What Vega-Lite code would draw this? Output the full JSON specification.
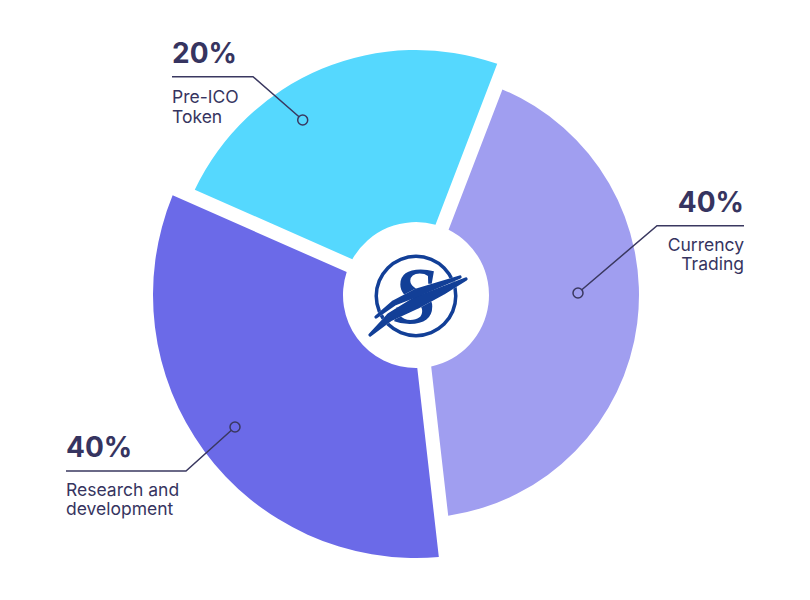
{
  "$schema": "https://vega.github.io/schema/vega-lite/v6.json",
  "width": 810,
  "height": 600,
  "autosize": {"type": "none"},
  "padding": 0,
  "background": "white",
  "config": {"view": {"stroke": null}},
  "datasets": {
    "slices": [
      {"name": "Currency Trading", "pct": "40%", "share": 42.36, "order": 1},
      {"name": "Research and development", "pct": "40%", "share": 33.42, "order": 2},
      {"name": "Pre-ICO Token", "pct": "20%", "share": 24.22, "order": 3}
    ],
    "leaders": [
      {"slice": "Pre-ICO Token", "seq": 1, "x": -244, "y": 218.3},
      {"slice": "Pre-ICO Token", "seq": 2, "x": -163, "y": 218.3},
      {"slice": "Pre-ICO Token", "seq": 3, "x": -113.3, "y": 175},
      {"slice": "Currency Trading", "seq": 1, "x": 328, "y": 69.3},
      {"slice": "Currency Trading", "seq": 2, "x": 241, "y": 69.3},
      {"slice": "Currency Trading", "seq": 3, "x": 162, "y": 2},
      {"slice": "Research and development", "seq": 1, "x": -350, "y": -176},
      {"slice": "Research and development", "seq": 2, "x": -230, "y": -176},
      {"slice": "Research and development", "seq": 3, "x": -181, "y": -132}
    ],
    "labels": [
      {"slice": "Pre-ICO Token", "kind": "pct", "side": "left", "text": "20%", "x": -244, "y": 232},
      {"slice": "Pre-ICO Token", "kind": "desc", "side": "left", "text": "Pre-ICO", "x": -244, "y": 191.7},
      {"slice": "Pre-ICO Token", "kind": "desc", "side": "left", "text": "Token", "x": -244, "y": 171.7},
      {"slice": "Currency Trading", "kind": "pct", "side": "right", "text": "40%", "x": 328, "y": 83},
      {"slice": "Currency Trading", "kind": "desc", "side": "right", "text": "Currency", "x": 328, "y": 44.3},
      {"slice": "Currency Trading", "kind": "desc", "side": "right", "text": "Trading", "x": 328, "y": 25},
      {"slice": "Research and development", "kind": "pct", "side": "left", "text": "40%", "x": -350, "y": -161.7},
      {"slice": "Research and development", "kind": "desc", "side": "left", "text": "Research and", "x": -350, "y": -201},
      {"slice": "Research and development", "kind": "desc", "side": "left", "text": "development", "x": -350, "y": -220}
    ],
    "swoosh": [
      {"stroke": 1, "seq": 1, "x": -46, "y": -40, "w": 1},
      {"stroke": 1, "seq": 2, "x": -26, "y": -22, "w": 5},
      {"stroke": 1, "seq": 3, "x": 0, "y": -8, "w": 8},
      {"stroke": 1, "seq": 4, "x": 26, "y": 4, "w": 5},
      {"stroke": 1, "seq": 5, "x": 50, "y": 16, "w": 1},
      {"stroke": 2, "seq": 1, "x": -40, "y": -22, "w": 1},
      {"stroke": 2, "seq": 2, "x": -22, "y": -8, "w": 3},
      {"stroke": 2, "seq": 3, "x": 0, "y": 2, "w": 5},
      {"stroke": 2, "seq": 4, "x": 22, "y": 10, "w": 3},
      {"stroke": 2, "seq": 5, "x": 44, "y": 18, "w": 1}
    ],
    "logo": [{"letter": "S"}]
  },
  "layer": [
    {
      "data": {"name": "slices"},
      "transform": [
        {"stack": "share", "groupby": [], "sort": [{"field": "order"}], "as": ["t0", "t1"]},
        {"filter": "datum.name === 'Currency Trading'"}
      ],
      "mark": {"type": "arc", "innerRadius": 73, "outerRadius": 223, "padAngle": 0.0597},
      "encoding": {
        "x": {"datum": 0, "type": "quantitative", "scale": {"domain": [-416, 394], "nice": false, "zero": false}, "axis": null},
        "y": {"datum": 0, "type": "quantitative", "scale": {"domain": [-305, 295], "nice": false, "zero": false}, "axis": null},
        "theta": {"field": "t0", "type": "quantitative", "scale": {"domain": [0, 100], "range": [0.3665, 6.6497]}},
        "theta2": {"field": "t1"},
        "color": {"field": "name", "type": "nominal", "scale": {"domain": ["Pre-ICO Token", "Currency Trading", "Research and development"], "range": ["#55D8FE", "#A09EF0", "#6B6AE8"]}, "legend": null}
      }
    },
    {
      "data": {"name": "slices"},
      "transform": [
        {"stack": "share", "groupby": [], "sort": [{"field": "order"}], "as": ["t0", "t1"]},
        {"filter": "datum.name === 'Research and development'"}
      ],
      "mark": {"type": "arc", "innerRadius": 73, "outerRadius": 263, "padAngle": 0.0513},
      "encoding": {
        "x": {"datum": 0, "type": "quantitative", "scale": {"domain": [-416, 394], "nice": false, "zero": false}, "axis": null},
        "y": {"datum": 0, "type": "quantitative", "scale": {"domain": [-305, 295], "nice": false, "zero": false}, "axis": null},
        "theta": {"field": "t0", "type": "quantitative", "scale": {"domain": [0, 100], "range": [0.3665, 6.6497]}},
        "theta2": {"field": "t1"},
        "color": {"field": "name", "type": "nominal", "scale": {"domain": ["Pre-ICO Token", "Currency Trading", "Research and development"], "range": ["#55D8FE", "#A09EF0", "#6B6AE8"]}, "legend": null}
      }
    },
    {
      "data": {"name": "slices"},
      "transform": [
        {"stack": "share", "groupby": [], "sort": [{"field": "order"}], "as": ["t0", "t1"]},
        {"filter": "datum.name === 'Pre-ICO Token'"}
      ],
      "mark": {"type": "arc", "innerRadius": 73, "outerRadius": 245, "padAngle": 0.0548},
      "encoding": {
        "x": {"datum": 0, "type": "quantitative", "scale": {"domain": [-416, 394], "nice": false, "zero": false}, "axis": null},
        "y": {"datum": 0, "type": "quantitative", "scale": {"domain": [-305, 295], "nice": false, "zero": false}, "axis": null},
        "theta": {"field": "t0", "type": "quantitative", "scale": {"domain": [0, 100], "range": [0.3665, 6.6497]}},
        "theta2": {"field": "t1"},
        "color": {"field": "name", "type": "nominal", "scale": {"domain": ["Pre-ICO Token", "Currency Trading", "Research and development"], "range": ["#55D8FE", "#A09EF0", "#6B6AE8"]}, "legend": null}
      }
    },
    {
      "data": {"name": "logo"},
      "mark": {"type": "arc", "innerRadius": 38, "outerRadius": 41.5, "theta": 0, "theta2": 6.2832, "fill": "#123F97"},
      "encoding": {
        "x": {"datum": 0, "type": "quantitative", "scale": {"domain": [-416, 394], "nice": false, "zero": false}, "axis": null},
        "y": {"datum": -1, "type": "quantitative", "scale": {"domain": [-305, 295], "nice": false, "zero": false}, "axis": null}
      }
    },
    {
      "data": {"name": "logo"},
      "mark": {"type": "text", "font": "Liberation Serif", "fontWeight": "bold", "fontStyle": "italic", "fontSize": 80, "fill": "#123F97", "align": "center", "baseline": "alphabetic"},
      "encoding": {
        "x": {"datum": -1, "type": "quantitative", "scale": {"domain": [-416, 394], "nice": false, "zero": false}, "axis": null},
        "y": {"datum": -28, "type": "quantitative", "scale": {"domain": [-305, 295], "nice": false, "zero": false}, "axis": null},
        "text": {"field": "letter"}
      }
    },
    {
      "data": {"name": "swoosh"},
      "mark": {"type": "trail", "color": "white"},
      "encoding": {
        "x": {"field": "x", "type": "quantitative", "scale": {"domain": [-416, 394], "nice": false, "zero": false}, "axis": null},
        "y": {"field": "y", "type": "quantitative", "scale": {"domain": [-305, 295], "nice": false, "zero": false}, "axis": null},
        "detail": {"field": "stroke"},
        "order": {"field": "seq"},
        "size": {"field": "w", "type": "quantitative", "scale": {"type": "linear", "domain": [0, 8], "range": [2, 12]}, "legend": null}
      }
    },
    {
      "data": {"name": "swoosh"},
      "mark": {"type": "trail", "color": "#123F97"},
      "encoding": {
        "x": {"field": "x", "type": "quantitative", "scale": {"domain": [-416, 394], "nice": false, "zero": false}, "axis": null},
        "y": {"field": "y", "type": "quantitative", "scale": {"domain": [-305, 295], "nice": false, "zero": false}, "axis": null},
        "detail": {"field": "stroke"},
        "order": {"field": "seq"},
        "size": {"field": "w", "type": "quantitative", "scale": {"type": "linear", "domain": [0, 8], "range": [0.5, 7]}, "legend": null}
      }
    },
    {
      "data": {"name": "leaders"},
      "mark": {"type": "line", "stroke": "#3A3860", "strokeWidth": 1.5},
      "encoding": {
        "x": {"field": "x", "type": "quantitative", "scale": {"domain": [-416, 394], "nice": false, "zero": false}, "axis": null},
        "y": {"field": "y", "type": "quantitative", "scale": {"domain": [-305, 295], "nice": false, "zero": false}, "axis": null},
        "detail": {"field": "slice"},
        "order": {"field": "seq"}
      }
    },
    {
      "data": {"name": "leaders"},
      "transform": [{"filter": "datum.seq === 3"}],
      "mark": {"type": "point", "shape": "circle", "size": 100, "filled": true, "stroke": "#3A3860", "strokeWidth": 1.5, "opacity": 1},
      "encoding": {
        "x": {"field": "x", "type": "quantitative", "scale": {"domain": [-416, 394], "nice": false, "zero": false}, "axis": null},
        "y": {"field": "y", "type": "quantitative", "scale": {"domain": [-305, 295], "nice": false, "zero": false}, "axis": null},
        "fill": {"field": "slice", "type": "nominal", "scale": {"domain": ["Pre-ICO Token", "Currency Trading", "Research and development"], "range": ["#55D8FE", "#A09EF0", "#6B6AE8"]}, "legend": null}
      }
    },
    {
      "data": {"name": "labels"},
      "transform": [{"filter": "datum.kind === 'pct' && datum.side === 'left'"}],
      "mark": {"type": "text", "font": "Inter", "fontWeight": "bold", "fontSize": 28, "fill": "#363460", "align": "left", "baseline": "alphabetic"},
      "encoding": {
        "x": {"field": "x", "type": "quantitative", "scale": {"domain": [-416, 394], "nice": false, "zero": false}, "axis": null},
        "y": {"field": "y", "type": "quantitative", "scale": {"domain": [-305, 295], "nice": false, "zero": false}, "axis": null},
        "text": {"field": "text"}
      }
    },
    {
      "data": {"name": "labels"},
      "transform": [{"filter": "datum.kind === 'pct' && datum.side === 'right'"}],
      "mark": {"type": "text", "font": "Inter", "fontWeight": "bold", "fontSize": 28, "fill": "#363460", "align": "right", "baseline": "alphabetic"},
      "encoding": {
        "x": {"field": "x", "type": "quantitative", "scale": {"domain": [-416, 394], "nice": false, "zero": false}, "axis": null},
        "y": {"field": "y", "type": "quantitative", "scale": {"domain": [-305, 295], "nice": false, "zero": false}, "axis": null},
        "text": {"field": "text"}
      }
    },
    {
      "data": {"name": "labels"},
      "transform": [{"filter": "datum.kind === 'desc' && datum.side === 'left'"}],
      "mark": {"type": "text", "font": "Inter", "fontWeight": "normal", "fontSize": 17.5, "fill": "#363460", "align": "left", "baseline": "alphabetic"},
      "encoding": {
        "x": {"field": "x", "type": "quantitative", "scale": {"domain": [-416, 394], "nice": false, "zero": false}, "axis": null},
        "y": {"field": "y", "type": "quantitative", "scale": {"domain": [-305, 295], "nice": false, "zero": false}, "axis": null},
        "text": {"field": "text"}
      }
    },
    {
      "data": {"name": "labels"},
      "transform": [{"filter": "datum.kind === 'desc' && datum.side === 'right'"}],
      "mark": {"type": "text", "font": "Inter", "fontWeight": "normal", "fontSize": 17.5, "fill": "#363460", "align": "right", "baseline": "alphabetic"},
      "encoding": {
        "x": {"field": "x", "type": "quantitative", "scale": {"domain": [-416, 394], "nice": false, "zero": false}, "axis": null},
        "y": {"field": "y", "type": "quantitative", "scale": {"domain": [-305, 295], "nice": false, "zero": false}, "axis": null},
        "text": {"field": "text"}
      }
    }
  ]
}
